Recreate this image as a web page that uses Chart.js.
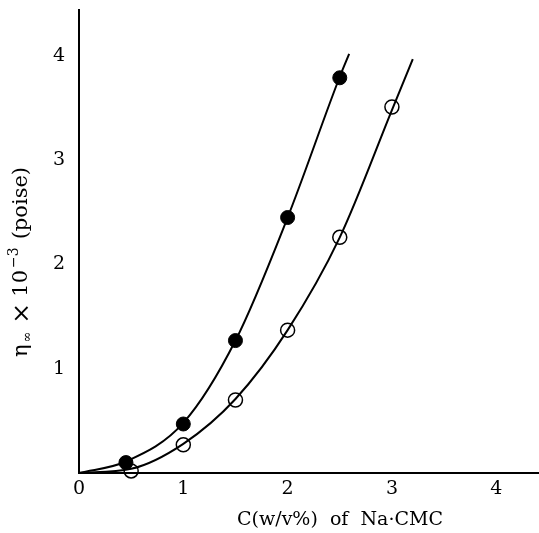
<!DOCTYPE html>
<html lang="en">
<head>
    <meta charset="UTF-8">
    <title>η∞ vs C of Na·CMC</title>
    <script src="https://cdn.jsdelivr.net/npm/chart.js"></script>
    <style>
        body { margin: 0; background: #fff; }
        #chart { display: block; }
    </style>
</head>
<body>
    <canvas id="chart" width="539" height="533"></canvas>

    <script>
        // measured points (filled circles)
        const filledX = [0.45, 1.0, 1.5, 2.0, 2.5];
        const filledY = [0.10, 0.47, 1.27, 2.45, 3.79];

        // measured points (open circles)
        const openX = [0.5, 1.0, 1.5, 2.0, 2.5, 3.0];
        const openY = [0.02, 0.27, 0.70, 1.37, 2.26, 3.51];

        // fitted curves
        const filledCurveX = [0, 0.45, 1.0, 1.5, 2.0, 2.5, 2.59];
        const filledCurveY = [0, 0.11, 0.48, 1.27, 2.45, 3.80, 4.02];
        const openCurveX = [0, 0.5, 1.0, 1.5, 2.0, 2.5, 3.0, 3.2];
        const openCurveY = [0, 0.04, 0.28, 0.71, 1.37, 2.26, 3.48, 3.97];

        const xTicks = [0, 1, 2, 3, 4];
        const yTicks = [1, 2, 3, 4];
        const xTitle = 'C(w/v%)  of  Na·CMC';

        const toPoints = (xs, ys) => xs.map((x, i) => ({ x: x, y: ys[i] }));
        const serif = "'DejaVu Serif', 'Liberation Serif', serif";

        // axis titles; the y one needs a subscript and a superscript
        const titlesPlugin = {
            id: 'titles',
            afterDraw(chart) {
                const ctx = chart.ctx;
                ctx.save();
                ctx.fillStyle = '#000';
                ctx.textBaseline = 'middle';
                ctx.textAlign = 'center';
                ctx.font = '19px ' + serif;
                ctx.fillText(xTitle, 340, 520);

                ctx.textAlign = 'left';
                ctx.translate(22, 262);
                ctx.rotate(-Math.PI / 2);
                const parts = [
                    { t: 'η', size: 21, dy: 0, gap: 2 },
                    { t: '∞', size: 13, dy: 6, gap: 8 },
                    { t: '×', size: 25, dy: 0, gap: 6 },
                    { t: '10', size: 21, dy: 0, gap: 2 },
                    { t: '−3', size: 14, dy: -8, gap: 8 },
                    { t: '(poise)', size: 21, dy: 0, gap: 0 }
                ];
                let w = 0;
                parts.forEach(p => {
                    ctx.font = p.size + 'px ' + serif;
                    p.w = ctx.measureText(p.t).width;
                    w += p.w + p.gap;
                });
                let x = -w / 2;
                parts.forEach(p => {
                    ctx.font = p.size + 'px ' + serif;
                    ctx.fillText(p.t, x, p.dy);
                    x += p.w + p.gap;
                });
                ctx.restore();
            }
        };

        new Chart(document.getElementById('chart'), {
            type: 'scatter',
            data: {
                datasets: [
                    {
                        data: toPoints(filledCurveX, filledCurveY),
                        showLine: true,
                        borderColor: '#000',
                        borderWidth: 2,
                        pointRadius: 0,
                        cubicInterpolationMode: 'monotone'
                    },
                    {
                        data: toPoints(openCurveX, openCurveY),
                        showLine: true,
                        borderColor: '#000',
                        borderWidth: 2,
                        pointRadius: 0,
                        cubicInterpolationMode: 'monotone'
                    },
                    {
                        data: toPoints(filledX, filledY),
                        pointRadius: 7,
                        pointBackgroundColor: '#000',
                        pointBorderColor: '#000',
                        pointBorderWidth: 1
                    },
                    {
                        data: toPoints(openX, openY),
                        pointRadius: 7,
                        pointBackgroundColor: 'rgba(0,0,0,0)',
                        pointBorderColor: '#000',
                        pointBorderWidth: 1.5
                    }
                ]
            },
            options: {
                responsive: false,
                animation: false,
                clip: false,
                layout: {
                    autoPadding: false,
                    padding: { top: 10, right: 0, left: 0, bottom: 0 }
                },
                plugins: {
                    legend: { display: false },
                    tooltip: { enabled: false }
                },
                scales: {
                    x: {
                        type: 'linear',
                        min: 0,
                        max: 4.41,
                        afterFit: s => {
                            s.height = 60;
                            s.paddingLeft = 0;
                            s.paddingRight = 0;
                        },
                        afterBuildTicks: s => { s.ticks = xTicks.map(v => ({ value: v })); },
                        grid: { drawOnChartArea: false, drawTicks: false },
                        border: { color: '#000', width: 2 },
                        ticks: {
                            color: '#000',
                            padding: 5,
                            font: { family: serif, size: 19 }
                        }
                    },
                    y: {
                        type: 'linear',
                        min: 0,
                        max: 4.44,
                        afterFit: s => {
                            s.width = 79;
                            s.paddingTop = 0;
                            s.paddingBottom = 0;
                        },
                        afterBuildTicks: s => { s.ticks = yTicks.map(v => ({ value: v })); },
                        grid: { drawOnChartArea: false, drawTicks: false },
                        border: { color: '#000', width: 2 },
                        ticks: {
                            color: '#000',
                            padding: 14,
                            font: { family: serif, size: 19 }
                        }
                    }
                }
            },
            plugins: [titlesPlugin]
        });
    </script>
</body>
</html>
